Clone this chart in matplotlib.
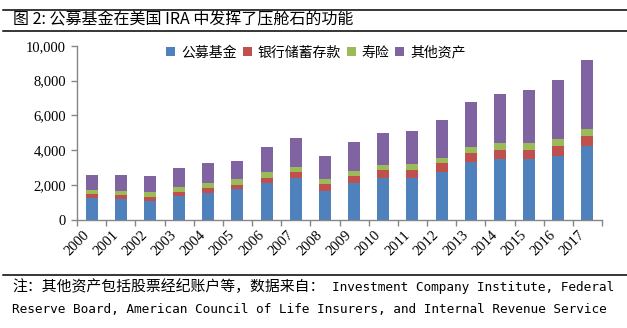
import numpy as np
import matplotlib
matplotlib.use("Agg")
import matplotlib.pyplot as plt
from matplotlib.patches import Patch
from matplotlib.lines import Line2D

# data
years = [str(y) for y in range(2000, 2018)]
mutual_funds = [1280, 1210, 1090, 1400, 1550, 1780, 2120, 2430, 1660,
                2120, 2430, 2430, 2770, 3350, 3500, 3500, 3690, 4260]
bank_deposits = [230, 250, 230, 210, 290, 230, 310, 340, 420,
                 420, 460, 460, 500, 500, 540, 540, 570, 570]
life_insurance = [230, 210, 290, 290, 290, 340, 340, 290, 270,
                  270, 270, 340, 310, 340, 380, 380, 380, 380]
other_assets = [840, 920, 920, 1110, 1150, 1030, 1420, 1660, 1340,
                1680, 1840, 1890, 2180, 2600, 2830, 3040, 3400, 3980]
series_names = ["公募基金", "银行储蓄存款", "寿险", "其他资产"]
colors = ["#4F81BD", "#C0504D", "#9BBB59", "#8064A2"]

title = "图 2: 公募基金在美国 IRA 中发挥了压舱石的功能"
note_cn = "注：其他资产包括股票经纪账户等，数据来自："
note_en1 = "Investment Company Institute, Federal"
note_en2 = "Reserve Board, American Council of Life Insurers, and Internal Revenue Service"

W, H = 627, 328
fig = plt.figure(figsize=(W / 100, H / 100), dpi=100)
ax = fig.add_axes([77 / W, 1 - 220 / H, (602 - 77) / W, (220 - 45.7) / H])

x = np.arange(len(years))
bottom = np.zeros(len(years))
for vals, c in zip([mutual_funds, bank_deposits, life_insurance, other_assets], colors):
    ax.bar(x, vals, width=0.41, bottom=bottom, color=c, zorder=2)
    bottom += np.array(vals)

ax.set_xlim(-0.5, len(years) - 0.5)
ax.set_ylim(0, 10000)
ax.set_yticks(np.arange(0, 10001, 2000))
ax.set_yticklabels([f"{v:,}" for v in range(0, 10001, 2000)],
                   family="Liberation Serif", fontsize=10.5)
ax.set_xticks(x)
ax.set_xticklabels(years, rotation=45, ha="right", va="top",
                   family="Liberation Serif", fontsize=10.5)
ax.set_xticks(np.arange(-0.5, len(years)), minor=True)
ax.tick_params(axis="x", which="major", length=0, pad=6)
ax.tick_params(axis="x", which="minor", length=4, width=1, color="#868686", direction="out")
ax.tick_params(axis="y", length=4, width=1, color="#868686", direction="out", pad=4)

for s in ["top", "right"]:
    ax.spines[s].set_visible(False)
for s in ["left", "bottom"]:
    ax.spines[s].set_color("#868686")
    ax.spines[s].set_linewidth(1)

handles = [Patch(facecolor=c, edgecolor="none") for c in colors]
fig.legend(handles, series_names, ncol=4, loc="center",
           bbox_to_anchor=(316 / W, 1 - 52.5 / H), frameon=False,
           handlelength=0.65, handleheight=0.65, handletextpad=0.4,
           columnspacing=0.45, borderpad=0,
           prop={"family": "Noto Sans CJK SC", "size": 10})

# title, rules, footnote
for yy in [10, 31, 275]:
    fig.add_artist(Line2D([3 / W, 1], [1 - yy / H, 1 - yy / H],
                          transform=fig.transFigure, color="black", lw=1.1))
fig.text(13 / W, 1 - 20 / H, title, va="center", ha="left",
         family=["Noto Sans CJK SC", "DejaVu Sans"], fontsize=11.5)
fig.text(12 / W, 1 - 291 / H, note_cn, va="baseline", ha="left",
         family=["Noto Sans CJK SC"], fontsize=10.7)
fig.text(332 / W, 1 - 291 / H, note_en1, va="baseline", ha="left",
         family=["DejaVu Sans Mono"], fontsize=9.2)
fig.text(12 / W, 1 - 313 / H, note_en2, va="baseline", ha="left",
         family=["DejaVu Sans Mono"], fontsize=9.2)

fig.savefig("out.png", dpi=100)
